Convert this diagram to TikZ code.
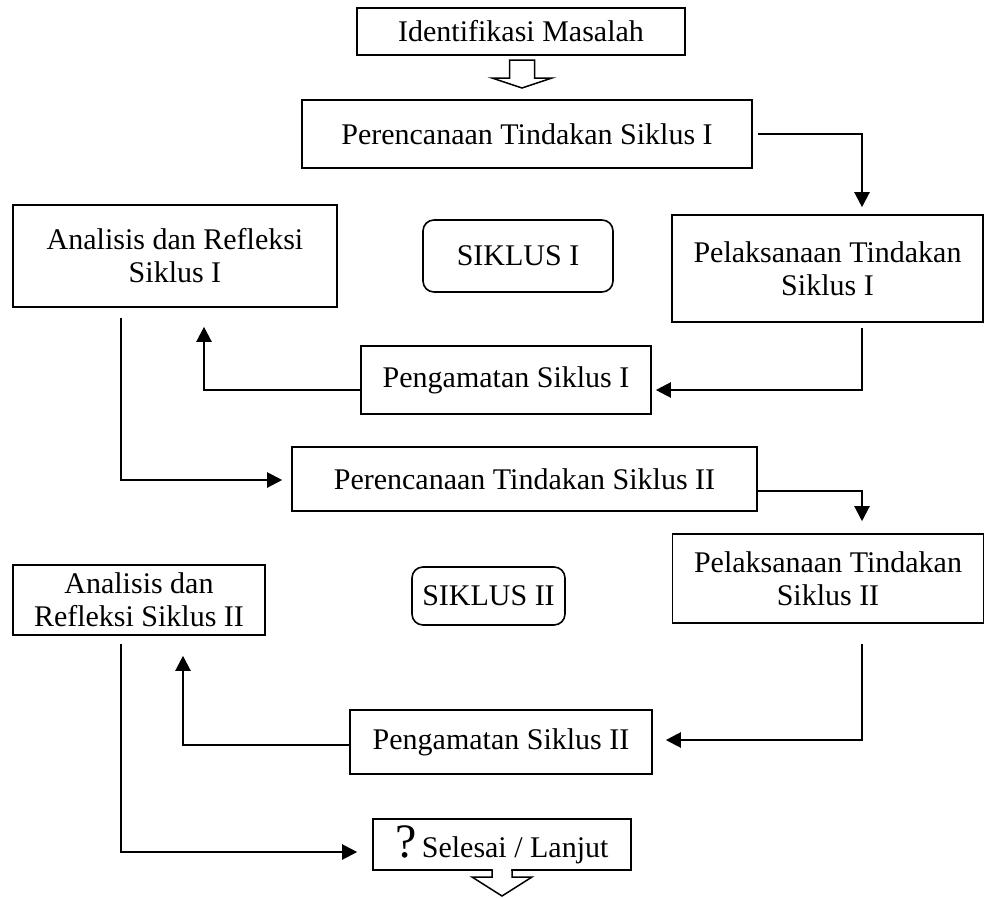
\documentclass[tikz,border=0pt]{standalone}
\usepackage{fontspec}
\setmainfont{Liberation Serif}
\usetikzlibrary{arrows.meta,calc}
\begin{document}
\begin{tikzpicture}[x=1pt,y=-1pt,
 box/.style={draw,line width=1.6pt,inner sep=0pt,align=center,font=\fontsize{30}{33}\selectfont},
 rbox/.style={box,rounded corners=11pt},
 arr/.style={line width=2.2pt,-{Triangle[length=15pt,width=15pt]}},
 hollow/.style={line width=1.5pt,line join=miter}]
\useasboundingbox (0,0) rectangle (985,897);

\node[box,minimum width=328,minimum height=47] (ident) at (521,31.5) {Identifikasi Masalah};
\node[box,minimum width=450,minimum height=68] (per1) at (527,134) {Perencanaan Tindakan Siklus I};
\node[box,minimum width=311,minimum height=107] (pel1) at (827.5,268.5) {Pelaksanaan Tindakan\\Siklus I};
\node[rbox,minimum width=190,minimum height=72] (sik1) at (518,256) {SIKLUS I};
\node[box,minimum width=324,minimum height=102] (ana1) at (175,256) {Analisis dan Refleksi\\Siklus I};
\node[box,minimum width=290,minimum height=68] (pen1) at (506,380) {Pengamatan Siklus I};
\node[box,minimum width=465,minimum height=64] (per2) at (524.5,479) {Perencanaan Tindakan Siklus II};
\node[box,minimum width=311,minimum height=89] (pel2) at (828,578.5) {Pelaksanaan Tindakan\\Siklus II};
\node[rbox,minimum width=153,minimum height=58] (sik2) at (488.5,596) {SIKLUS II};
\node[box,minimum width=252,minimum height=70] (ana2) at (139,600) {Analisis dan\\Refleksi Siklus II};
\node[box,minimum width=302,minimum height=64] (pen2) at (501,742) {Pengamatan Siklus II};
\node[box,minimum width=258,minimum height=51] (sel) at (502,844.5) {{\fontsize{48}{48}\selectfont ?}\,Selesai / Lanjut};

\coordinate (xr) at (862,0);
\coordinate (xa) at (204,0);
\coordinate (xl) at (121,0);
\coordinate (xb) at (183,0);
\coordinate (ya) at (0,390);
\coordinate (yb) at (0,480);
\coordinate (yc) at (0,491);
\coordinate (yd) at (0,740);
\coordinate (ye) at (0,745);
\coordinate (yf) at (0,852);

\draw[arr,shorten <=5pt,shorten >=7pt] (per1.east) -| (xr |- pel1.north);
\draw[arr,shorten <=5pt,shorten >=4pt] (xr |- pel1.south) -- (xr |- ya) -- (pen1.east |- ya);
\draw[arr,shorten >=19pt] (pen1.west |- ya) -- (xa |- ya) -- (xa |- ana1.south);
\draw[arr,shorten <=10pt,shorten >=9pt] (xl |- ana1.south) -- (xl |- yb) -- (per2.west |- yb);
\draw[arr,shorten >=12pt] (per2.east |- yc) -| (xr |- pel2.north);
\draw[arr,shorten <=20pt,shorten >=13pt] (xr |- pel2.south) -- (xr |- yd) -- (pen2.east |- yd);
\draw[arr,shorten >=20pt] (pen2.west |- ye) -- (xb |- ye) -- (xb |- ana2.south);
\draw[arr,shorten <=8pt,shorten >=15pt] (xl |- ana2.south) -- (xl |- yf) -- (sel.west |- yf);

% hollow arrows
\draw[hollow,fill=white] (509.5,60) -- (534.5,60) -- (534.5,78) -- (552,78) -- (522,88) -- (492,78) -- (509.5,78) -- cycle;
\fill[white] (492.8,869) -- (511.2,869) -- (511.2,877) -- (532,877) -- (502,896) -- (472,877) -- (492.8,877) -- cycle;
\draw[hollow] (492,870) -- (492,877) -- (472,877) -- (502,896) -- (532,877) -- (512,877) -- (512,870);
\end{tikzpicture}
\end{document}
